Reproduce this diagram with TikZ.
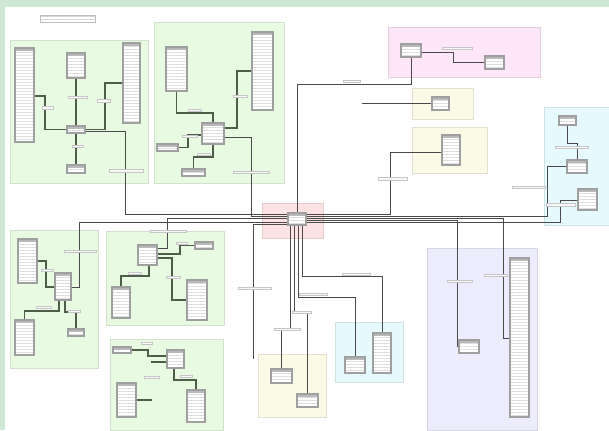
\documentclass[tikz,border=0pt]{standalone}
\usetikzlibrary{positioning,fit,patterns.meta,calc}
\definecolor{bgband}{HTML}{CFE8D6}
\definecolor{grgreen}{HTML}{E8FBE2}
\definecolor{grpink}{HTML}{FDE6F8}
\definecolor{gryellow}{HTML}{FBFAE6}
\definecolor{grcyan}{HTML}{E6FAFD}
\definecolor{grlav}{HTML}{ECECFC}
\definecolor{grhub}{HTML}{FCE2E2}
\definecolor{linkgray}{HTML}{4A4A4A}
\definecolor{linkgreen}{HTML}{4E5E4A}
\tikzset{
  grp/.style={draw=#1!80!gray, fill=#1, line width=0.4pt, inner sep=0pt},
  tbl/.style={inner sep=0pt, draw=gray!75, line width=0.8pt,
              preaction={fill=white},
              pattern={Lines[angle=0,distance=1.5pt,line width=0.3pt]},
              pattern color=gray!28,
              path picture={\fill[gray!55] (path picture bounding box.north west)
                 rectangle ([yshift=-1.6pt]path picture bounding box.north east);}},
  lbl/.style={inner sep=0pt, draw=gray!45, fill=gray!5, line width=0.3pt},
  note/.style={inner sep=0pt, draw=gray!50, fill=white, line width=0.3pt,
               pattern={Lines[angle=0,distance=1.5pt,line width=0.3pt]},
               pattern color=gray!35},
  link/.style={draw=linkgray, line width=0.5pt},
  glink/.style={draw=linkgreen, line width=0.8pt},
}
\newcommand{\dbtab}[5]{\node[tbl, fit={(#2,#3) (#4,#5)}] (#1) {};}
\newcommand{\dblbl}[5]{\node[lbl, fit={(#2,#3) (#4,#5)}] (#1) {};}

\begin{document}
\begin{tikzpicture}[x=0.5pt, y=-0.5pt]
  \useasboundingbox (0,0) rectangle (609,430);
  \fill[bgband] (0,0) rectangle (609,430);
  \fill[white] (5,7) rectangle (609,430);
  \node[note, fit={(40,15) (95,22)}] (memo) {};

  % groups
  \node[grp=grgreen, fit={(10,40) (148,183)}] (gA) {};
  \node[grp=grgreen, fit={(154,22) (284,183)}] (gB) {};
  \node[grp=grgreen, fit={(10,230) (98,368)}] (gC) {};
  \node[grp=grgreen, fit={(106,231) (224,325)}] (gD) {};
  \node[grp=grgreen, fit={(110,339) (223,430)}] (gE) {};
  \node[grp=grpink, fit={(388,27) (540,77)}] (gP) {};
  \node[grp=gryellow, fit={(412,88) (473,119)}] (gY1) {};
  \node[grp=gryellow, fit={(412,127) (487,173)}] (gY2) {};
  \node[grp=gryellow, fit={(258,354) (326,417)}] (gY3) {};
  \node[grp=grcyan, fit={(544,107) (609,225)}] (gK1) {};
  \node[grp=grcyan, fit={(335,322) (403,382)}] (gK2) {};
  \node[grp=grlav, fit={(427,248) (537,430)}] (gL) {};
  \node[grp=grhub, fit={(262,203) (323,238)}] (gH) {};

  % hub
  \dbtab{hub}{288}{213}{306}{225}

  % group A
  \dbtab{aL}{15}{48}{34}{142}
  \dbtab{aT}{67}{53}{85}{78}
  \dbtab{aR}{123}{43}{140}{123}
  \dbtab{aC}{67}{126}{85}{133}
  \dbtab{aB}{67}{165}{85}{173}
  \draw[glink] (aL.east |- 0,96) -- (45,96) |- (aC.west);
  \draw[glink] (aT.south) -- (aC.north);
  \draw[glink] (aR.west |- 0,83) -- (105,83) |- (aC.east);
  \draw[glink] (aC.south) -- (aB.north);
  \draw[link] (aC.east |- 0,131) -| (125,214) -- (hub.west |- 0,214);
  \dblbl{la1}{42}{106}{53}{109}
  \dblbl{la2}{68}{96}{87}{98}
  \dblbl{la3}{97}{99}{110}{102}
  \dblbl{la4}{72}{145}{83}{147}
  \dblbl{la5}{109}{169}{143}{172}

  % group B
  \dbtab{bL}{166}{47}{187}{91}
  \dbtab{bR}{252}{32}{273}{110}
  \dbtab{bC}{202}{123}{224}{144}
  \dbtab{bS}{157}{144}{178}{151}
  \dbtab{bB}{182}{169}{205}{176}
  \draw[glink] (bL.south) |- (213,113) -- (bC.north);
  \draw[glink] (bR.west |- 0,71) -- (237,71) |- (bC.east |- 0,128);
  \draw[glink] (bS.east) -| (188,135) -- (bC.west |- 0,135);
  \draw[glink] (bB.north) |- (213,157) -- (bC.south);
  \draw[link] (bC.east |- 0,137) -| (251,216) -- (hub.west |- 0,216);
  \dblbl{lb1}{188}{109}{201}{111}
  \dblbl{lb2}{233}{95}{247}{97}
  \dblbl{lb3}{182}{135}{197}{137}
  \dblbl{lb4}{197}{153}{210}{155}
  \dblbl{lb5}{233}{171}{269}{173}

  % group C
  \dbtab{kT1}{18}{239}{37}{283}
  \dbtab{kC}{55}{273}{71}{300}
  \dbtab{kT3}{15}{320}{34}{355}
  \dbtab{kT4}{68}{329}{84}{336}
  \draw[glink] (kT1.east |- 0,261) -- (46,261) |- (kC.west |- 0,287);
  \draw[glink] (kC.south -| 59,0) -- (59,311) -| (kT3.north);
  \draw[glink] (kC.south -| 65,0) -- (65,312) -| (kT4.north);
  \draw[link] (kC.east |- 0,287) -| (79,222) -- (hub.west |- 0,222);
  \dblbl{lc1}{64}{250}{96}{252}
  \dblbl{lc2}{36}{306}{51}{308}
  \dblbl{lc3}{68}{310}{80}{312}
  \dblbl{lc4}{41}{269}{53}{271}

  % group D
  \dbtab{dC}{138}{245}{157}{265}
  \dbtab{dS}{195}{242}{213}{249}
  \dbtab{dL}{112}{287}{130}{318}
  \dbtab{dR}{187}{280}{207}{320}
  \draw[link] (dC.east |- 0,248) -| (167,218) -- (hub.west |- 0,218);
  \draw[glink] (dC.east |- 0,254) -- (180,254) |- (dS.west);
  \draw[glink] (dC.east |- 0,258) -- (172,258) |- (dR.west |- 0,300);
  \draw[glink] (dC.south -| 149,0) -- (149,276) -| (dL.north);
  \dblbl{ld1}{150}{230}{186}{232}
  \dblbl{ld2}{176}{242}{187}{244}
  \dblbl{ld3}{166}{276}{180}{278}
  \dblbl{ld4}{128}{272}{141}{274}

  % group E
  \dbtab{eT1}{113}{347}{131}{353}
  \dbtab{eC}{167}{350}{184}{368}
  \dbtab{eL}{117}{383}{136}{417}
  \dbtab{eR}{187}{390}{205}{422}
  \coordinate (eF1) at (151,362);
  \coordinate (eF2) at (152,400);
  \draw[glink] (eT1.east |- 0,350) -- (148,350) |- (eC.west |- 0,356);
  \draw[glink] (eC.south -| 174,0) -- (174,380) -| (eR.north);
  \draw[glink] (eF1) -- (eC.west |- eF1);
  \draw[glink] (eL.east |- eF2) -- (eF2);
  \dblbl{le1}{141}{342}{152}{344}
  \dblbl{le2}{180}{375}{192}{377}
  \dblbl{le3}{144}{376}{159}{378}

  % pink group
  \dbtab{pT1}{401}{44}{421}{57}
  \dbtab{pT2}{485}{56}{504}{69}
  \draw[link] (pT1.east |- 0,52) -- (453,52) |- (pT2.west);
  \draw[link] (pT1.south) |- (297,84) -- (hub.north);
  \dblbl{lp1}{442}{47}{472}{49}
  \dblbl{lp2}{343}{80}{360}{82}

  % yellow groups
  \dbtab{y1T}{432}{97}{449}{110}
  \coordinate (yF) at (362,103);
  \draw[link] (yF) -- (y1T.west |- yF);
  \dbtab{y2T}{442}{135}{460}{165}
  \draw[link] (hub.east |- 0,214) -| (390,152) -- (y2T.west |- 0,152);
  \dblbl{ly1}{378}{177}{407}{180}

  % cyan right
  \dbtab{cT1}{559}{116}{576}{125}
  \dbtab{cT2}{567}{160}{587}{173}
  \dbtab{cT3}{578}{189}{597}{210}
  \draw[link] (cT1.south) |- (577,143) -- (cT2.north);
  \draw[link] (cT2.west) -| (547,216) -- (hub.east |- 0,216);
  \draw[link] (cT3.west |- 0,200) -| (560,222) -- (hub.east |- 0,222);
  \dblbl{lk1}{555}{146}{588}{148}
  \dblbl{lk2}{512}{186}{545}{188}
  \dblbl{lk3}{546}{203}{575}{206}

  % lavender
  \dbtab{lT1}{459}{340}{479}{353}
  \dbtab{lT2}{510}{258}{529}{417}
  \draw[link] (hub.east |- 0,220) -| (457,346) -- (lT1.west |- 0,346);
  \draw[link] (hub.east |- 0,218) -| (503,338) -- (lT2.west |- 0,338);
  \dblbl{ll1}{447}{280}{472}{282}
  \dblbl{ll2}{484}{274}{507}{276}

  % cyan bottom
  \dbtab{cbT1}{345}{357}{365}{373}
  \dbtab{cbT2}{373}{333}{391}{373}
  \draw[link] (hub.south -| 298,0) |- (355,297) -- (cbT1.north);
  \draw[link] (hub.south -| 302,0) |- (382,276) -- (cbT2.north);
  \dblbl{lm1}{299}{293}{327}{295}
  \dblbl{lm2}{342}{273}{370}{275}

  % yellow bottom
  \dbtab{ybT1}{271}{369}{292}{383}
  \dbtab{ybT2}{297}{394}{318}{407}
  \draw[link] (hub.south -| 290,0) -- (290,330) -| (ybT1.north);
  \draw[link] (hub.south -| 294,0) -- (294,313) -| (ybT2.north);
  \coordinate (hF) at (253,359);
  \draw[link] (hub.west |- 0,224) -| (hF);
  \dblbl{ln1}{274}{328}{300}{330}
  \dblbl{ln2}{292}{311}{311}{313}
  \dblbl{ln3}{238}{287}{271}{289}
\end{tikzpicture}
\end{document}
